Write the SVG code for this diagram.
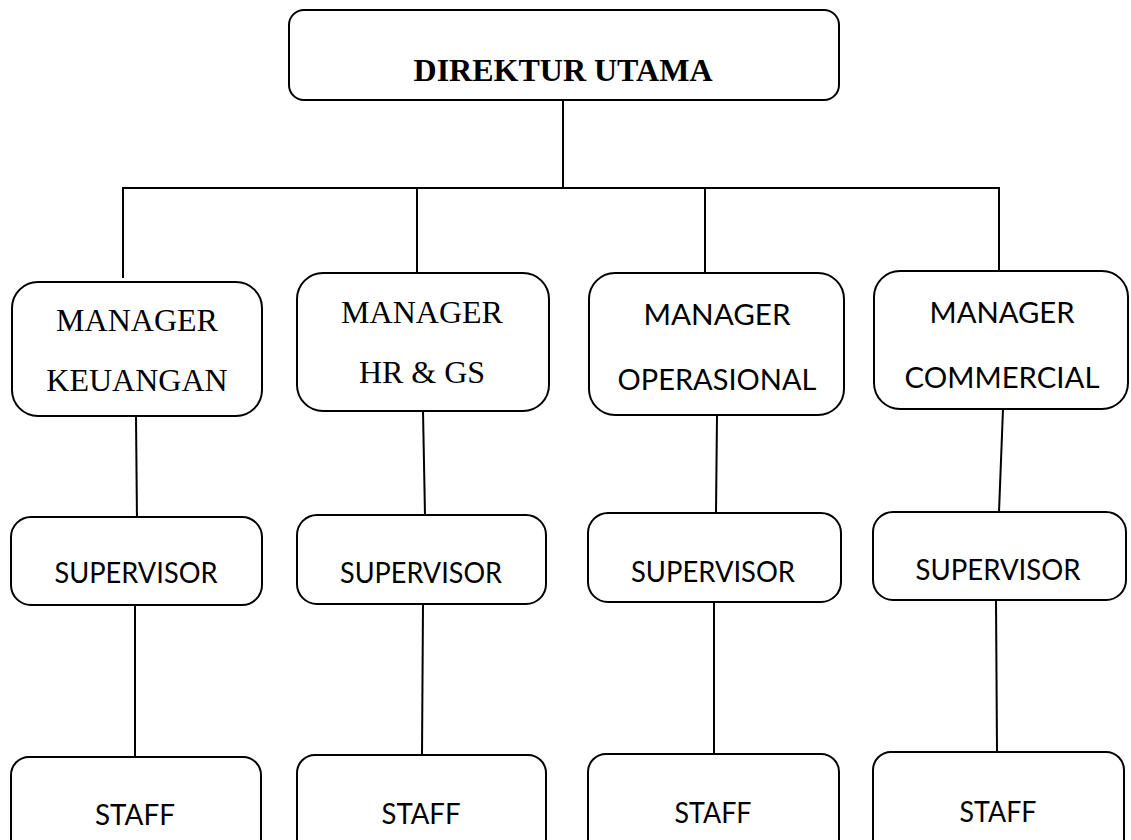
<svg xmlns="http://www.w3.org/2000/svg" width="1131" height="840" viewBox="0 0 1131 840">
<style>
.box{fill:#fff;stroke:#000;stroke-width:2}
.ln{stroke:#000;stroke-width:2;fill:none}
.serif{font-family:"Liberation Serif","Times New Roman",serif;font-size:32px;fill:#000;text-anchor:middle}
.bold{font-weight:bold}
.sans{font-family:Lato,"Liberation Sans",sans-serif;font-size:29px;fill:#000;text-anchor:middle}
</style>
<rect width="1131" height="840" fill="#fff"/>
<g id="connectors">
<line class="ln" x1="563" y1="100" x2="563" y2="188"/>
<line class="ln" x1="122" y1="188" x2="1000" y2="188"/>
<line class="ln" x1="123" y1="188" x2="123" y2="278"/>
<line class="ln" x1="417" y1="188" x2="417" y2="274"/>
<line class="ln" x1="705" y1="188" x2="705" y2="272"/>
<line class="ln" x1="999" y1="188" x2="999" y2="271"/>
<line class="ln" x1="136" y1="416" x2="137" y2="522"/>
<line class="ln" x1="423" y1="411" x2="425" y2="515"/>
<line class="ln" x1="717" y1="415" x2="716" y2="513"/>
<line class="ln" x1="1003" y1="409" x2="999" y2="512"/>
<line class="ln" x1="135" y1="605" x2="135" y2="757"/>
<line class="ln" x1="423" y1="604" x2="422" y2="755"/>
<line class="ln" x1="714" y1="602" x2="714" y2="754"/>
<line class="ln" x1="996" y1="600" x2="997" y2="752"/>
</g>
<g id="direktur">
<rect class="box" x="289" y="10" width="550" height="90" rx="15"/>
<text class="serif bold" x="563" y="81">DIREKTUR UTAMA</text>
</g>
<g id="mgr-keuangan">
<rect class="box" x="12" y="282" width="250" height="134" rx="26"/>
<text class="serif" x="137" y="331">MANAGER</text>
<text class="serif" x="137" y="391">KEUANGAN</text>
</g>
<g id="mgr-hr">
<rect class="box" x="297" y="273" width="252" height="138" rx="26"/>
<text class="serif" x="422" y="323">MANAGER</text>
<text class="serif" x="422" y="383">HR &amp; GS</text>
</g>
<g id="mgr-operasional">
<rect class="box" x="589" y="273" width="255" height="142" rx="26"/>
<text class="sans" x="717" y="325" textLength="147" lengthAdjust="spacingAndGlyphs">MANAGER</text>
<text class="sans" x="717" y="390" textLength="199" lengthAdjust="spacingAndGlyphs">OPERASIONAL</text>
</g>
<g id="mgr-commercial">
<rect class="box" x="874" y="271" width="254" height="138" rx="26"/>
<text class="sans" x="1002" y="323" textLength="145" lengthAdjust="spacingAndGlyphs">MANAGER</text>
<text class="sans" x="1002" y="388" textLength="195" lengthAdjust="spacingAndGlyphs">COMMERCIAL</text>
</g>
<g id="sup-1">
<rect class="box" x="11" y="517" width="251" height="88" rx="20"/>
<text class="sans" x="136" y="583" textLength="163" lengthAdjust="spacingAndGlyphs">SUPERVISOR</text>
</g>
<g id="sup-2">
<rect class="box" x="297" y="515" width="249" height="89" rx="20"/>
<text class="sans" x="421" y="583" textLength="162" lengthAdjust="spacingAndGlyphs">SUPERVISOR</text>
</g>
<g id="sup-3">
<rect class="box" x="588" y="513" width="253" height="89" rx="20"/>
<text class="sans" x="713" y="582" textLength="164" lengthAdjust="spacingAndGlyphs">SUPERVISOR</text>
</g>
<g id="sup-4">
<rect class="box" x="873" y="512" width="253" height="88" rx="20"/>
<text class="sans" x="998" y="580" textLength="165" lengthAdjust="spacingAndGlyphs">SUPERVISOR</text>
</g>
<g id="staff-1">
<rect class="box" x="11" y="757" width="250" height="110" rx="18"/>
<text class="sans" x="135" y="825" textLength="80" lengthAdjust="spacingAndGlyphs">STAFF</text>
</g>
<g id="staff-2">
<rect class="box" x="297" y="755" width="249" height="110" rx="18"/>
<text class="sans" x="421" y="824" textLength="79" lengthAdjust="spacingAndGlyphs">STAFF</text>
</g>
<g id="staff-3">
<rect class="box" x="588" y="754" width="251" height="110" rx="18"/>
<text class="sans" x="713" y="823" textLength="77" lengthAdjust="spacingAndGlyphs">STAFF</text>
</g>
<g id="staff-4">
<rect class="box" x="873" y="752" width="251" height="110" rx="18"/>
<text class="sans" x="998" y="822" textLength="77" lengthAdjust="spacingAndGlyphs">STAFF</text>
</g>
</svg>
